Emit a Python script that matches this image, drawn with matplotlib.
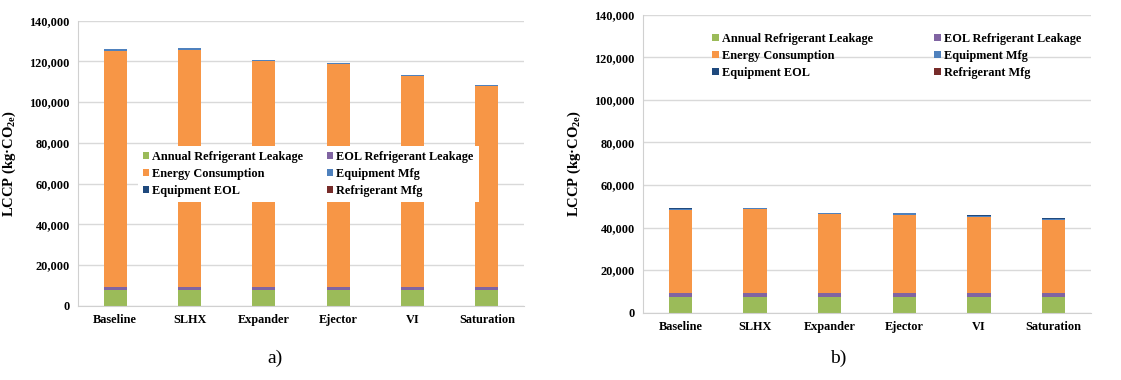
import matplotlib
matplotlib.use("Agg")
import numpy as np
import matplotlib.pyplot as plt
from matplotlib.ticker import FuncFormatter

plt.rcParams['font.family'] = ['Liberation Serif', 'DejaVu Serif']
plt.rcParams['font.weight'] = 'bold'
plt.rcParams['axes.labelweight'] = 'bold'
plt.rcParams['mathtext.fontset'] = 'custom'
plt.rcParams['mathtext.rm'] = 'Liberation Serif:bold'
plt.rcParams['mathtext.it'] = 'Liberation Serif:bold'
plt.rcParams['mathtext.bf'] = 'Liberation Serif:bold'

categories = ["Baseline", "SLHX", "Expander", "Ejector", "VI", "Saturation"]
series_names = ["Annual Refrigerant Leakage", "EOL Refrigerant Leakage", "Energy Consumption",
                "Equipment Mfg", "Equipment EOL", "Refrigerant Mfg"]
colors = ["#9BBB59", "#8064A2", "#F79646", "#4F81BD", "#1F497D", "#772C2A"]

# panel a)
annual_a = [7500, 7500, 7500, 7500, 7500, 7500]
eol_a = [1900, 1900, 1900, 1900, 1900, 1900]
energy_a = [115900, 116300, 110700, 109200, 103200, 98400]
equip_mfg_a = [650, 650, 650, 650, 650, 650]
equip_eol_a = [60, 60, 60, 60, 60, 60]
refrig_mfg_a = [90, 90, 90, 90, 90, 90]

# panel b)
annual_b = [7500, 7500, 7500, 7500, 7500, 7500]
eol_b = [1900, 1900, 1900, 1900, 1900, 1900]
energy_b = [38900, 39200, 36850, 36700, 35600, 34200]
equip_mfg_b = [650, 650, 650, 650, 650, 650]
equip_eol_b = [60, 60, 60, 60, 60, 60]
refrig_mfg_b = [90, 90, 90, 90, 90, 90]

yticks = [0, 20000, 40000, 60000, 80000, 100000, 120000, 140000]

fig = plt.figure(figsize=(11.21, 3.80), dpi=100)
ax_a = fig.add_axes([0.0696, 0.1955, 0.3979, 0.75])
ax_b = fig.add_axes([0.5736, 0.1771, 0.3996, 0.7842])


def draw(ax, data):
    x = np.arange(len(categories))
    bottom = np.zeros(len(categories))
    for vals, name, c in zip(data, series_names, colors):
        ax.bar(x, vals, 0.31, bottom=bottom, color=c, label=name, zorder=2)
        bottom = bottom + np.array(vals)
    ax.set_xlim(-0.5, len(categories) - 0.5)
    ax.set_ylim(0, 140000)
    ax.set_yticks(yticks)
    ax.yaxis.set_major_formatter(FuncFormatter(lambda v, p: f"{int(v):,}"))
    ax.set_xticks(x)
    ax.set_xticklabels(categories)
    ax.tick_params(length=0, labelsize=8.8, pad=6)
    ax.grid(axis='y', color='#D9D9D9', linewidth=1, zorder=0)
    ax.set_axisbelow(True)
    for s in ['top', 'right']:
        ax.spines[s].set_visible(False)
    for s in ['left', 'bottom']:
        ax.spines[s].set_color('#D0D0D0')
    ax.set_ylabel(r"LCCP (kg·CO$_{\mathrm{2e}}$)", fontsize=10.5, labelpad=8)


draw(ax_a, [annual_a, eol_a, energy_a, equip_mfg_a, equip_eol_a, refrig_mfg_a])
draw(ax_b, [annual_b, eol_b, energy_b, equip_mfg_b, equip_eol_b, refrig_mfg_b])

# legend fills column-wise, reorder so it reads row-wise like the original
order = [0, 2, 4, 1, 3, 5]


def legend(ax, **kw):
    h, l = ax.get_legend_handles_labels()
    return ax.legend([h[i] for i in order], [l[i] for i in order], loc='upper left', ncol=2,
                     fontsize=8.8, handlelength=0.55, handleheight=0.55, handletextpad=0.25,
                     labelspacing=0.42, **kw)


legend(ax_a, bbox_to_anchor=(0.12, 0.582), frameon=True, facecolor='white', edgecolor='none',
       framealpha=1, columnspacing=1.9, borderpad=0.4, fancybox=False)
legend(ax_b, bbox_to_anchor=(0.135, 0.968), frameon=False, columnspacing=5.0, borderpad=0.2)

fig.text(275 / 1121, 1 - 358 / 380, "a)", fontsize=14, fontweight='normal', ha='center', va='center')
fig.text(838 / 1121, 1 - 358 / 380, "b)", fontsize=14, fontweight='normal', ha='center', va='center')

fig.savefig("out.png", dpi=100)
